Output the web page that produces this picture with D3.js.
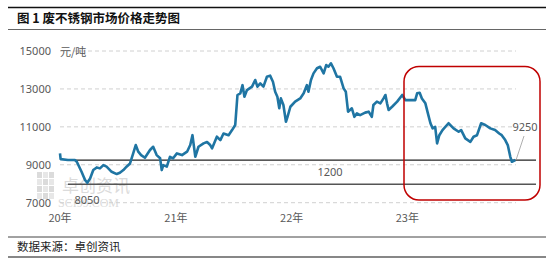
<!DOCTYPE html>
<html>
<head>
<meta charset="utf-8">
<script src="https://cdn.jsdelivr.net/npm/d3@7"></script>
<style>
  body { margin: 0; background: #fff; }
  svg { display: block; }
</style>
</head>
<body>
<script>
// price data (元/吨)
var dates = [
  "2020-01-01","2020-01-03","2020-01-26","2020-02-17","2020-02-23","2020-03-09","2020-03-20","2020-03-27",
  "2020-04-05","2020-04-15","2020-04-26","2020-05-06","2020-05-17","2020-05-27","2020-06-12","2020-06-28",
  "2020-07-08","2020-07-19","2020-07-29","2020-08-09","2020-08-19","2020-08-27","2020-09-04","2020-09-13",
  "2020-09-25","2020-10-11","2020-10-21","2020-11-01","2020-11-12","2020-11-17","2020-11-22","2020-12-03",
  "2020-12-13","2020-12-23","2021-01-04","2021-01-20","2021-02-05","2021-02-15","2021-02-22","2021-03-03",
  "2021-03-13","2021-03-29","2021-04-09","2021-04-19","2021-04-25","2021-05-10","2021-05-21","2021-05-31",
  "2021-06-16","2021-06-27","2021-07-07","2021-07-14","2021-07-23","2021-07-30","2021-08-05","2021-08-13",
  "2021-08-29","2021-09-08","2021-09-15","2021-09-24","2021-10-04","2021-10-15","2021-10-25","2021-11-03",
  "2021-11-10","2021-11-17","2021-11-23","2021-11-28","2021-12-06","2021-12-14","2021-12-19","2021-12-28",
  "2022-01-12","2022-01-28","2022-02-08","2022-02-18","2022-02-23","2022-03-03","2022-03-11","2022-03-22",
  "2022-04-01","2022-04-12","2022-04-20","2022-04-27","2022-05-05","2022-05-13","2022-05-24","2022-06-03",
  "2022-06-14","2022-06-21","2022-06-28","2022-07-10","2022-07-18","2022-07-26","2022-08-05","2022-08-21",
  "2022-09-01","2022-09-11","2022-09-16","2022-09-27","2022-10-08","2022-10-18","2022-10-24","2022-10-29",
  "2022-11-03","2022-11-14","2022-11-30","2022-12-16","2022-12-26","2023-01-10","2023-01-26","2023-02-01",
  "2023-02-09","2023-02-16","2023-02-27","2023-03-07","2023-03-15","2023-03-22","2023-03-30","2023-04-05",
  "2023-04-12","2023-04-22","2023-05-11","2023-05-27","2023-06-12","2023-06-20","2023-07-03","2023-07-19",
  "2023-07-29","2023-08-09","2023-08-22","2023-09-04","2023-09-20","2023-10-05","2023-10-18","2023-10-26",
  "2023-11-06","2023-11-14","2023-11-22","2023-11-27","2023-12-08"
];
var prices = [
  9600,9300,9250,9250,9160,8630,8200,8050,
  8280,8720,8860,8810,8980,8900,8630,8510,
  8580,8720,8900,9070,9600,10040,9690,9510,
  9370,9780,9950,9510,9340,8720,8980,8900,
  9420,9340,9600,9510,9690,10040,10560,9420,
  9950,10130,10200,10040,9870,10480,10300,10650,
  10560,10830,11100,12680,12770,13200,12590,12940,
  13120,13470,13120,13290,13120,13640,13700,13380,
  12850,12590,11980,12500,12150,11270,11530,12060,
  12330,12500,12770,13200,12850,13470,13820,14090,
  14170,13820,14260,14170,14350,14090,13640,13640,
  13030,12850,11800,11980,11530,11710,11620,11750,
  11800,11530,12150,12330,12240,12500,12680,12240,
  11890,12060,12330,12680,12410,12410,12410,12770,
  12800,12500,12240,11710,11190,10920,11000,10130,
  10560,10830,11190,10920,10740,10830,10390,10210,
  10480,10560,11190,11100,10920,10830,10650,10560,
  10300,10040,9420,9160,9250
];

var yTicks = [7000, 9000, 11000, 13000, 15000];
var xTicks = ["2020-01-01", "2021-01-01", "2022-01-01", "2023-01-01"];
var xTickLabels = ["20年", "21年", "22年", "23年"];

var lowVal = 8050,
    lastVal = 9250,
    gapLabel = "1200";

var line_col = "#1f75a3",
    grid_col = "#d0d0d0",
    text_col = "#595959",
    red_col = "#c00000";

var width = 554,
    height = 263;

var parse = d3.timeParse("%Y-%m-%d");
var data = dates.map(function(d, i) { return { date: parse(d), value: prices[i] }; });

var svg = d3.select("body")
    .append("svg")
    .attr("width", width)
    .attr("height", height);

var xScale = d3.scaleTime()
    .domain([parse("2020-01-01"), parse("2023-12-10")])
    .range([60, 516]);

var yScale = d3.scaleLinear()
    .domain([7000, 15000])
    .range([202.7, 51]);

// ==== title block ====
svg.append("line")
    .attr("x1", 8).attr("x2", 546)
    .attr("y1", 7.5).attr("y2", 7.5)
    .attr("stroke", "#111")
    .attr("stroke-width", 1.5);

svg.append("text")
    .text("图 1  废不锈钢市场价格走势图")
    .attr("x", 17)
    .attr("y", 22.5)
    .attr("font-family", '"Noto Sans CJK SC", sans-serif')
    .attr("font-size", "12.5px")
    .attr("font-weight", 700)
    .attr("fill", "#111");

svg.append("line")
    .attr("x1", 8).attr("x2", 546)
    .attr("y1", 29.5).attr("y2", 29.5)
    .attr("stroke", "#666")
    .attr("stroke-width", 1);

// ==== watermark ====
var wm = svg.append("g").attr("opacity", 0.35);
for (var r = 0; r < 4; r++) {
    for (var c = 0; c < 3; c++) {
        wm.append("rect")
            .attr("x", 37 + c * 6)
            .attr("y", 172 + r * 7)
            .attr("width", 5)
            .attr("height", 6)
            .attr("fill", (r + c) % 2 ? "#bbb" : "#999");
    }
}
wm.append("text")
    .text("卓创资讯")
    .attr("x", 62)
    .attr("y", 192)
    .attr("font-family", '"Noto Sans CJK SC", sans-serif')
    .attr("font-size", "17px")
    .attr("fill", "#999");
wm.append("text")
    .text("SCI99.COM")
    .attr("x", 58)
    .attr("y", 207)
    .attr("font-family", '"Liberation Serif", serif')
    .attr("font-size", "12px")
    .attr("fill", "#999");

// ==== grid + y labels ====
svg.append("g").selectAll("line")
    .data(yTicks)
    .join("line")
    .attr("x1", xScale.range()[0])
    .attr("x2", xScale.range()[1])
    .attr("y1", function(d) { return yScale(d); })
    .attr("y2", function(d) { return yScale(d); })
    .attr("stroke", grid_col)
    .attr("stroke-dasharray", "4,3")
    .attr("stroke-width", 1);

svg.append("g").selectAll("text")
    .data(yTicks)
    .join("text")
    .text(function(d) { return d; })
    .attr("x", 51)
    .attr("y", function(d) { return yScale(d); })
    .attr("dy", "0.35em")
    .attr("text-anchor", "end")
    .attr("font-family", '"Noto Sans", sans-serif')
    .attr("font-size", "11px")
    .attr("fill", text_col);

svg.append("text")
    .text("元/吨")
    .attr("x", 60)
    .attr("y", yScale(15000) + 1)
    .attr("dy", "0.35em")
    .attr("font-family", '"Noto Sans CJK SC", sans-serif')
    .attr("font-size", "11px")
    .attr("fill", text_col);

// ==== x labels ====
svg.append("g").selectAll("text")
    .data(xTicks)
    .join("text")
    .text(function(d, i) { return xTickLabels[i]; })
    .attr("x", function(d) { return xScale(parse(d)); })
    .attr("y", 218)
    .attr("dy", "0.35em")
    .attr("text-anchor", "middle")
    .attr("font-family", '"Noto Sans CJK SC", sans-serif')
    .attr("font-size", "11px")
    .attr("fill", text_col);

// ==== reference lines ====
var refStart = xScale(parse("2020-01-26")),
    refEnd = 536;

svg.append("line")
    .attr("x1", refStart).attr("x2", refEnd)
    .attr("y1", yScale(lastVal)).attr("y2", yScale(lastVal))
    .attr("stroke", "#222")
    .attr("stroke-width", 1.2);

svg.append("line")
    .attr("x1", refStart).attr("x2", refEnd)
    .attr("y1", yScale(lowVal) + 1.5).attr("y2", yScale(lowVal) + 1.5)
    .attr("stroke", "#555")
    .attr("stroke-width", 1.6);

// ==== price line ====
var line = d3.line()
    .x(function(d) { return xScale(d.date); })
    .y(function(d) { return yScale(d.value); });

svg.append("path")
    .datum(data)
    .attr("d", line)
    .attr("fill", "none")
    .attr("stroke", line_col)
    .attr("stroke-width", 2.6)
    .attr("stroke-linejoin", "round");

// ==== annotations ====
svg.append("text")
    .text(lowVal)
    .attr("x", 87)
    .attr("y", 200)
    .attr("dy", "0.35em")
    .attr("text-anchor", "middle")
    .attr("font-family", '"Noto Sans", sans-serif')
    .attr("font-size", "11px")
    .attr("fill", text_col);

svg.append("text")
    .text(gapLabel)
    .attr("x", 330)
    .attr("y", (yScale(lastVal) + yScale(lowVal)) / 2 + 1)
    .attr("dy", "0.35em")
    .attr("text-anchor", "middle")
    .attr("font-family", '"Noto Sans", sans-serif')
    .attr("font-size", "11px")
    .attr("fill", text_col);

var last = data[data.length - 1];
svg.append("line")
    .attr("x1", xScale(last.date) + 1)
    .attr("y1", yScale(last.value) - 1)
    .attr("x2", 524)
    .attr("y2", 136)
    .attr("stroke", "#999")
    .attr("stroke-width", 0.8);

svg.append("text")
    .text(lastVal)
    .attr("x", 525)
    .attr("y", 127)
    .attr("dy", "0.35em")
    .attr("text-anchor", "middle")
    .attr("font-family", '"Noto Sans", sans-serif')
    .attr("font-size", "11px")
    .attr("fill", text_col);

// ==== highlight box ====
svg.append("rect")
    .attr("x", 404)
    .attr("y", 66.5)
    .attr("width", 136)
    .attr("height", 133.5)
    .attr("rx", 15)
    .attr("ry", 15)
    .attr("fill", "none")
    .attr("stroke", red_col)
    .attr("stroke-width", 1.5);

// ==== footer ====
svg.append("line")
    .attr("x1", 8).attr("x2", 546)
    .attr("y1", 237).attr("y2", 237)
    .attr("stroke", "#444")
    .attr("stroke-width", 1);

svg.append("text")
    .text("数据来源：卓创资讯")
    .attr("x", 17)
    .attr("y", 246.5)
    .attr("dy", "0.35em")
    .attr("font-family", '"Noto Sans CJK SC", sans-serif')
    .attr("font-size", "11.5px")
    .attr("fill", "#222");

svg.append("line")
    .attr("x1", 8).attr("x2", 546)
    .attr("y1", 257).attr("y2", 257)
    .attr("stroke", "#111")
    .attr("stroke-width", 1.2);
</script>
</body>
</html>
